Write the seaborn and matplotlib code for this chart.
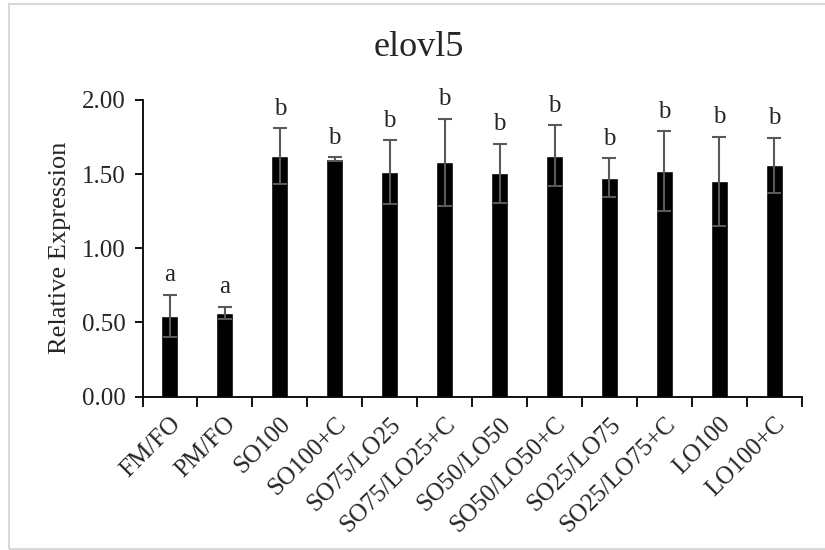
import matplotlib
matplotlib.use("Agg")
import matplotlib.pyplot as plt
from matplotlib.patches import Rectangle
from matplotlib.ticker import FormatStrFormatter, FixedLocator
import seaborn as sns
import pandas as pd
import numpy as np

# Diet groups and elovl5 relative expression (mean ± SE) with significance letters
groups = ["FM/FO", "PM/FO", "SO100", "SO100+C", "SO75/LO25", "SO75/LO25+C",
          "SO50/LO50", "SO50/LO50+C", "SO25/LO75", "SO25/LO75+C", "LO100", "LO100+C"]
expression = [0.545, 0.565, 1.624, 1.601, 1.514, 1.579, 1.505, 1.624, 1.475, 1.520, 1.451, 1.561]
std_error = [0.141, 0.041, 0.188, 0.012, 0.215, 0.294, 0.200, 0.204, 0.131, 0.270, 0.302, 0.186]
letters = ["a", "a", "b", "b", "b", "b", "b", "b", "b", "b", "b", "b"]

sns.set_style("white")
plt.rcParams["font.family"] = ["Liberation Serif", "DejaVu Serif"]

df = pd.DataFrame({"group": groups, "expr": expression})

fig = plt.figure(figsize=(8.25, 5.5), dpi=100)
ax = fig.add_axes([142.5 / 825, 1 - 396.5 / 550, (801.7 - 142.5) / 825, (396.5 - 100) / 550])

sns.barplot(data=df, x="group", y="expr", order=groups, color="black",
            width=0.31, saturation=1, errorbar=None, ax=ax)

xpos = np.arange(len(groups))
ax.errorbar(xpos, expression, yerr=std_error, fmt="none", ecolor="#595959",
            elinewidth=1.5, capsize=4.7, capthick=1.5, zorder=3)

for x, m, e, lab in zip(xpos, expression, std_error, letters):
    ax.annotate(lab, xy=(x, m + e), xytext=(0, 6), textcoords="offset points",
                ha="center", va="bottom", fontsize=18)

ax.set_xlim(-0.5, len(groups) - 0.5)
ax.set_ylim(0, 2.0)
ax.set_yticks([0, 0.5, 1.0, 1.5, 2.0])
ax.yaxis.set_major_formatter(FormatStrFormatter("%.2f"))

# category ticks sit on the boundaries between bars
ax.xaxis.set_major_locator(FixedLocator(np.arange(-0.5, len(groups), 1.0)))
ax.set_xticklabels([])
ax.xaxis.set_minor_locator(FixedLocator(xpos))
ax.set_xticklabels(groups, minor=True, rotation=45, ha="right",
                   rotation_mode="anchor", fontsize=18)
ax.tick_params(axis="x", which="major", direction="out", length=7, width=1.3,
               color="black", bottom=True)
ax.tick_params(axis="x", which="minor", length=0, pad=12)
ax.tick_params(axis="y", direction="out", length=6, width=1.3, color="black",
               left=True, labelsize=18, pad=6)

for side in ["top", "right"]:
    ax.spines[side].set_visible(False)
for side in ["left", "bottom"]:
    ax.spines[side].set_color("black")
    ax.spines[side].set_linewidth(1.3)

ax.set_xlabel("")
ax.set_ylabel("Relative Expression", fontsize=19, labelpad=8)
fig.text(419 / 825, 1 - 47 / 550, "elovl5", ha="center", va="center", fontsize=26)

# chart area frame
fig.patches.append(Rectangle((8.5 / 825, 1 - 549 / 550), 1.0, (549 - 4) / 550,
                             transform=fig.transFigure, fill=False,
                             edgecolor="#d9d9d9", linewidth=1.5))

fig.savefig("out.png", dpi=100, facecolor="white")
